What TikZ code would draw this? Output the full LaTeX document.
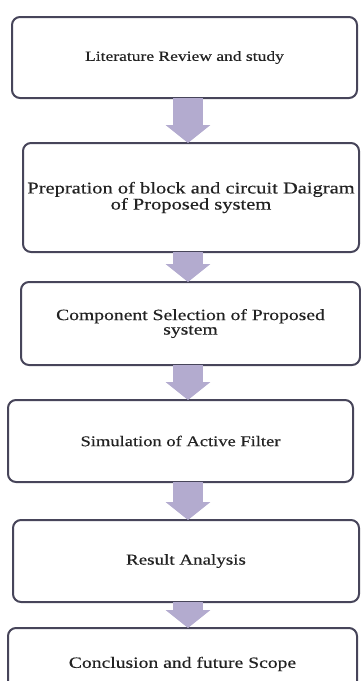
\documentclass[tikz,border=0pt]{standalone}
\usepackage{fontspec}
\setmainfont[FakeStretch=1.25,FakeBold=0.4]{Liberation Serif}
\usetikzlibrary{arrows.meta,calc}
\definecolor{boxline}{HTML}{47455A}
\definecolor{arrowcol}{HTML}{B3ABCF}
\definecolor{txt}{HTML}{222222}
\begin{document}
\begin{tikzpicture}[x=1pt,y=-1pt,
  stepbox/.style={draw=boxline,line width=2pt,rounded corners=8pt,fill=white,
    inner sep=0pt,outer sep=0pt,align=center,text=txt,
    font=\fontsize{15}{13.5}\selectfont},
  fs/.style={font=\fontsize{#1}{14.5}\selectfont},
  fatarrow/.style={draw=arrowcol,line width=30pt,
    -{Triangle[length=18pt,width=44pt]}}]
\useasboundingbox (0,0) rectangle (361,681);
\coordinate (ax) at (188,0);
\node[stepbox,fs=14,minimum width=345pt,minimum height=81pt] (b1) at (184.5,57.5) {Literature Review and study};
\node[stepbox,fs=16.4,minimum width=336pt,minimum height=109pt] (b2) at (191,197.5) {Prepration of block and circuit Daigram\\of Proposed system};
\node[stepbox,fs=15.7,minimum width=339pt,minimum height=83pt] (b3) at (190.5,323.5) {Component Selection of Proposed\\system};
\node[stepbox,fs=14.8,minimum width=345pt,minimum height=82pt] (b4) at (180.5,441) {Simulation of Active Filter};
\node[stepbox,fs=15.2,minimum width=346pt,minimum height=82pt] (b5) at (186,561) {Result Analysis};
\node[stepbox,fs=15.7,minimum width=349pt,minimum height=72pt] (b6) at (182.5,664) {Conclusion and future Scope};
\draw[fatarrow] (b1.south -| ax) -- (b2.north -| ax);
\draw[fatarrow] (b2.south -| ax) -- (b3.north -| ax);
\draw[fatarrow] (b3.south -| ax) -- (b4.north -| ax);
\draw[fatarrow] (b4.south -| ax) -- (b5.north -| ax);
\draw[fatarrow] (b5.south -| ax) -- (b6.north -| ax);
\end{tikzpicture}
\end{document}
